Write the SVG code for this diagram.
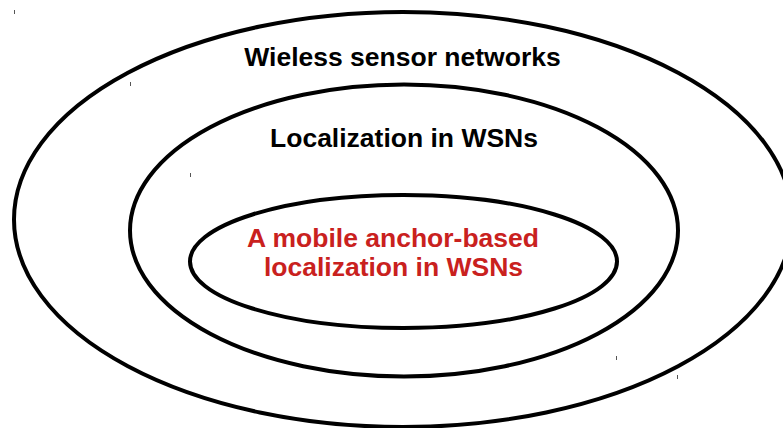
<svg xmlns="http://www.w3.org/2000/svg" width="783" height="428" viewBox="0 0 783 428">
  <style>
    .ring { fill: none; stroke: #000; stroke-width: 4; }
    .label { font-family: "Liberation Sans", Arial, sans-serif; font-weight: bold; font-size: 26.5px; text-anchor: middle; }
    .dark { fill: #000; }
    .accent { fill: #c9211e; }
    .tick { stroke: #555; stroke-width: 1; }
  </style>
  <rect width="783" height="428" fill="#fff"/>

  <!-- outermost set -->
  <g id="wsn">
    <ellipse class="ring" cx="403" cy="219.5" rx="389" ry="207.5"/>
    <text class="label dark" x="402.5" y="66">Wieless sensor networks</text>
  </g>

  <!-- middle set -->
  <g id="localization">
    <ellipse class="ring" cx="404" cy="230.5" rx="274" ry="146"/>
    <text class="label dark" x="404" y="147">Localization in WSNs</text>
  </g>

  <!-- innermost set -->
  <g id="mobile-anchor">
    <ellipse class="ring" cx="403.5" cy="261.5" rx="213.5" ry="66.5"/>
    <text class="label accent" x="393" y="247">A mobile anchor-based</text>
    <text class="label accent" x="393.5" y="276">localization in WSNs</text>
  </g>

  <!-- small corner marks -->
  <g id="marks">
    <line class="tick" x1="14.5" y1="10" x2="14.5" y2="14"/>
    <line class="tick" x1="130.5" y1="82" x2="130.5" y2="86"/>
    <line class="tick" x1="190.5" y1="173" x2="190.5" y2="177"/>
    <line class="tick" x1="616.5" y1="356" x2="616.5" y2="360"/>
    <line class="tick" x1="677.5" y1="375" x2="677.5" y2="379"/>
  </g>
</svg>
